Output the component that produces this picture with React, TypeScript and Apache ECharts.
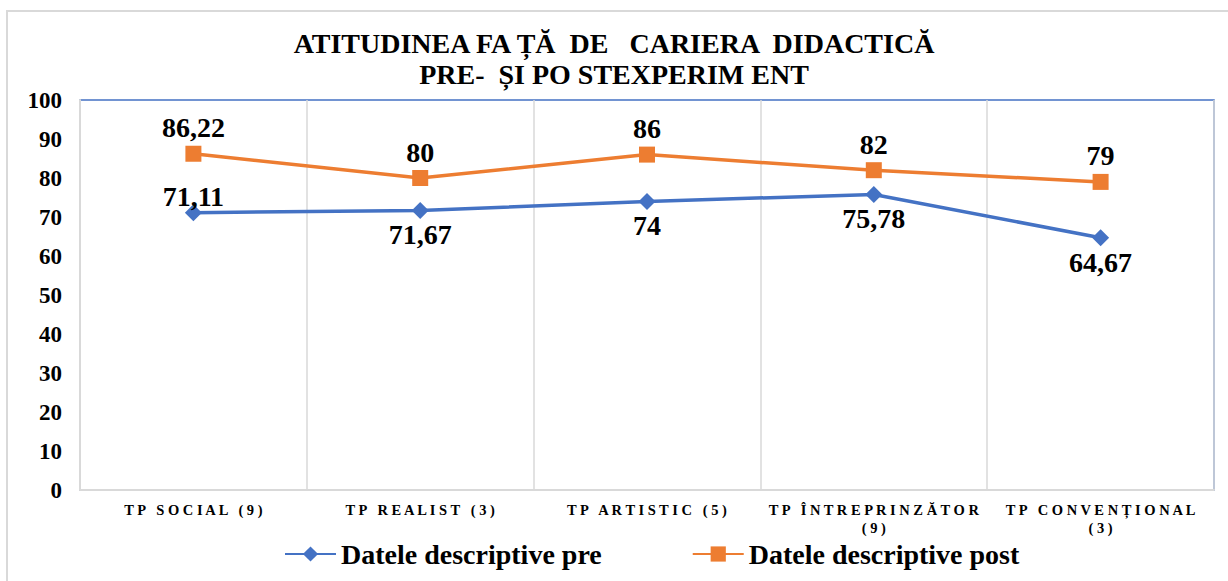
import React, { useEffect, useRef } from "react";
import * as echarts from "echarts";

const categories = [
  "TP SOCIAL (9)",
  "TP REALIST (3)",
  "TP ARTISTIC (5)",
  "TP ÎNTREPRINZĂTOR (9)",
  "TP CONVENȚIONAL (3)",
];
const preValues = [71.11, 71.67, 74, 75.78, 64.67];
const postValues = [86.22, 80, 86, 82, 79];
const preLabelPositions = ["top", "bottom", "bottom", "bottom", "bottom"];
const yTicks = [0, 10, 20, 30, 40, 50, 60, 70, 80, 90, 100];
const titleLines = ["ATITUDINEA FA ȚĂ  DE   CARIERA  DIDACTICĂ", "PRE-  ȘI PO STEXPERIM ENT"];
const seriesNames = ["Datele descriptive pre", "Datele descriptive post"];

const serif = "Liberation Serif";
const fmt = (v: number) => String(v).replace(".", ",");
const spaceOut = (s: string) => s.split("").join(" ");

export default function App() {
  const ref = useRef<HTMLDivElement>(null);
  useEffect(() => {
    if (!ref.current) return;
    const chart = echarts.init(ref.current, undefined, { renderer: "svg" });
    chart.setOption({
      animation: false,
      backgroundColor: "#ffffff",
      title: {
        text: titleLines.join("\n"),
        left: "center",
        top: 23,
        textStyle: {
          fontFamily: serif,
          fontWeight: "bold",
          fontSize: 28,
          lineHeight: 31,
          color: "#000",
        },
      },
      graphic: [
        {
          type: "rect",
          shape: { x: 7, y: 11, width: 1240, height: 600 },
          style: { fill: "none", stroke: "#d9d9d9", lineWidth: 2 },
          silent: true,
        },
      ],
      legend: {
        bottom: 8,
        left: 279,
        itemGap: 90,
        itemWidth: 51,
        itemHeight: 19,
        textStyle: {
          fontFamily: serif,
          fontWeight: "bold",
          fontSize: 28,
          color: "#000",
        },
        data: seriesNames,
      },
      grid: {
        left: 80,
        right: 14,
        top: 100,
        bottom: 91,
        show: true,
        borderColor: "#4472C4",
        borderWidth: 1.5,
      },
      xAxis: {
        type: "category",
        data: categories,
        boundaryGap: true,
        axisLine: { show: true, lineStyle: { color: "#d9d9d9", width: 2 } },
        axisTick: { show: false },
        splitLine: { show: true, lineStyle: { color: "#d9d9d9", width: 1.5 } },
        axisLabel: {
          interval: 0,
          margin: 11,
          fontFamily: serif,
          fontWeight: "bold",
          fontSize: 14.5,
          lineHeight: 18,
          color: "#000",
          formatter: (v: string) => {
            if (v.length > 16) {
              const idx = v.lastIndexOf(" ");
              return spaceOut(v.slice(0, idx)) + "\n" + spaceOut(v.slice(idx + 1));
            }
            return spaceOut(v);
          },
        },
      },
      yAxis: {
        type: "value",
        min: 0,
        max: 100,
        interval: 10,
        axisLine: { show: true, lineStyle: { color: "#d9d9d9", width: 2 } },
        axisTick: { show: false },
        splitLine: { show: false },
        axisLabel: {
          margin: 18,
          fontFamily: serif,
          fontWeight: "bold",
          fontSize: 23,
          color: "#000",
          formatter: (v: number) => (yTicks.includes(v) ? String(v) : ""),
        },
      },
      series: [
        {
          name: seriesNames[0],
          type: "line",
          data: preValues.map((v, i) => ({
            value: v,
            label: {
              position: preLabelPositions[i],
              distance: preLabelPositions[i] === "top" ? -6 : 2,
            },
          })),
          symbol: "diamond",
          symbolSize: 17,
          lineStyle: { color: "#4472C4", width: 3.5 },
          itemStyle: { color: "#4472C4" },
          label: {
            show: true,
            fontFamily: serif,
            fontWeight: "bold",
            fontSize: 28,
            color: "#000",
            formatter: (p: any) => fmt(p.value),
          },
        },
        {
          name: seriesNames[1],
          type: "line",
          data: postValues,
          symbol: "rect",
          symbolSize: 16,
          lineStyle: { color: "#ED7D31", width: 3.5 },
          itemStyle: { color: "#ED7D31" },
          label: {
            show: true,
            position: "top",
            distance: 4,
            fontFamily: serif,
            fontWeight: "bold",
            fontSize: 28,
            color: "#000",
            formatter: (p: any) => fmt(p.value),
          },
        },
      ],
    });
    return () => chart.dispose();
  }, []);
  return (
    <div
      ref={ref}
      style={{ position: "fixed", left: 0, top: 0, width: 1228, height: 581, background: "#fff" }}
    />
  );
}
